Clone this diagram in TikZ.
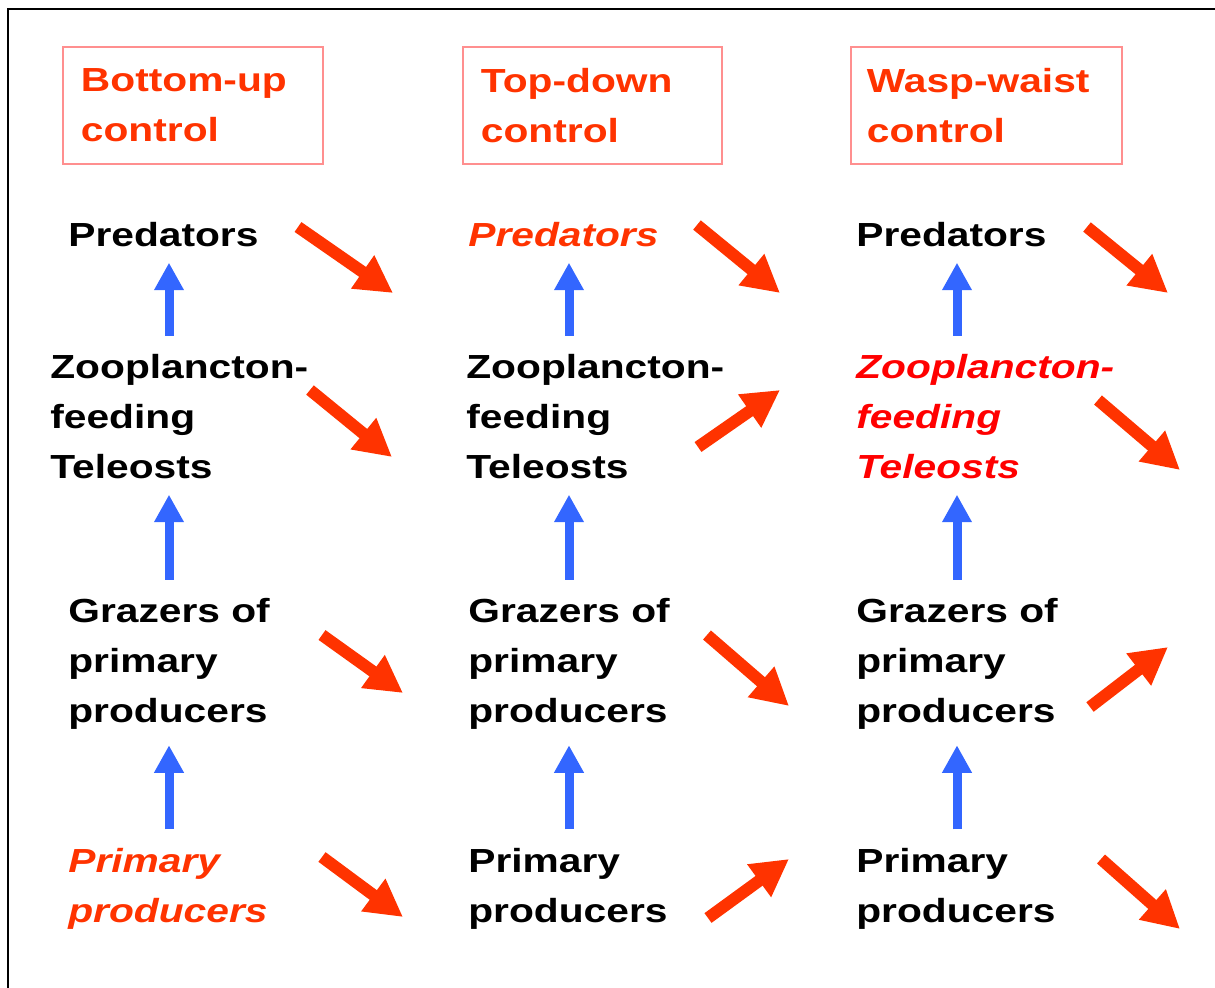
\documentclass[tikz,border=0pt]{standalone}
\usepackage{fontspec}
\setmainfont[FakeStretch=1.22]{Liberation Sans}
\usetikzlibrary{arrows.meta}
\definecolor{hdred}{HTML}{FF3300}
\definecolor{wwred}{HTML}{FF0000}
\definecolor{boxred}{HTML}{FF8F8F}
\definecolor{upblue}{HTML}{3366FF}

\begin{document}
\begin{tikzpicture}[
  x=0.02cm, y=-0.02cm,
  font=\fontsize{19}{28.45}\selectfont\bfseries,
  title/.style={draw=boxred, line width=1.1pt, text=hdred, align=left, anchor=north west,
                inner xsep=0.36cm, inner ysep=0pt, minimum height=2.34cm},
  level/.style={anchor=base west, align=left, inner sep=0pt},
  hot/.style={font=\fontsize{19}{28.45}\selectfont\bfseries\itshape},
  up/.style={-{Triangle[length=0.55cm,width=0.56cm]}, line width=0.18cm, draw=upblue,
             shorten <=0.36cm, shorten >=0.32cm},
  push/.style={-{Triangle[length=0.74cm,width=0.76cm]}, line width=0.24cm, draw=hdred},
  frame/.style={line width=1.7pt},
]
\useasboundingbox (0,0) rectangle (1215,988);
\draw[frame] (8,995) |- (1220,9);

% control types
\node[title, text width=4.48cm] (t1) at (62,46) {Bottom-up\\control};
\node[title, text width=4.46cm] (t2) at (462,46) {Top-down\\control};
\node[title, text width=4.78cm, inner xsep=0.32cm] (t3) at (850,46) {Wasp-waist\\control};

% bottom-up (base = last line)
\node[level] (pr1) at (68,246) {Predators};
\node[level] (zf1) at (50,478) {Zooplancton-\\feeding\\Teleosts};
\node[level] (gz1) at (68,722) {Grazers of\\primary\\producers};
\node[level, hot, text=hdred] (pp1) at (68,922) {Primary\\producers};

% top-down
\node[level, hot, text=hdred] (pr2) at (468,246) {Predators};
\node[level] (zf2) at (466,478) {Zooplancton-\\feeding\\Teleosts};
\node[level] (gz2) at (468,722) {Grazers of\\primary\\producers};
\node[level] (pp2) at (468,922) {Primary\\producers};

% wasp-waist
\node[level] (pr3) at (856,246) {Predators};
\node[level, hot, text=wwred] (zf3) at (856,478) {Zooplancton-\\feeding\\Teleosts};
\node[level] (gz3) at (856,722) {Grazers of\\primary\\producers};
\node[level] (pp3) at (856,922) {Primary\\producers};

\coordinate (ax1) at (169,0);
\coordinate (ax2) at (569,0);
\coordinate (ax3) at (957,0);

\draw[up] (zf1.north -| ax1) -- (pr1.south -| ax1);
\draw[up] (gz1.north -| ax1) -- (zf1.south -| ax1);
\draw[up] (pp1.north -| ax1) -- (gz1.south -| ax1);
\draw[up] (zf2.north -| ax2) -- (pr2.south -| ax2);
\draw[up] (gz2.north -| ax2) -- (zf2.south -| ax2);
\draw[up] (pp2.north -| ax2) -- (gz2.south -| ax2);
\draw[up] (zf3.north -| ax3) -- (pr3.south -| ax3);
\draw[up] (gz3.north -| ax3) -- (zf3.south -| ax3);
\draw[up] (pp3.north -| ax3) -- (gz3.south -| ax3);

% effects
\draw[push] (298,227) -- (393,293);
\draw[push] (310,390) -- (392,457);
\draw[push] (322,635) -- (403,693);
\draw[push] (322,857) -- (403,917);
\draw[push] (697,225) -- (780,293);
\draw[push] (698,447) -- (780,390);
\draw[push] (707,635) -- (789,706);
\draw[push] (708,918) -- (789,859);
\draw[push] (1087,227) -- (1168,293);
\draw[push] (1098,400) -- (1180,470);
\draw[push] (1090,707) -- (1168,647);
\draw[push] (1101,859) -- (1180,929);
\end{tikzpicture}
\end{document}
